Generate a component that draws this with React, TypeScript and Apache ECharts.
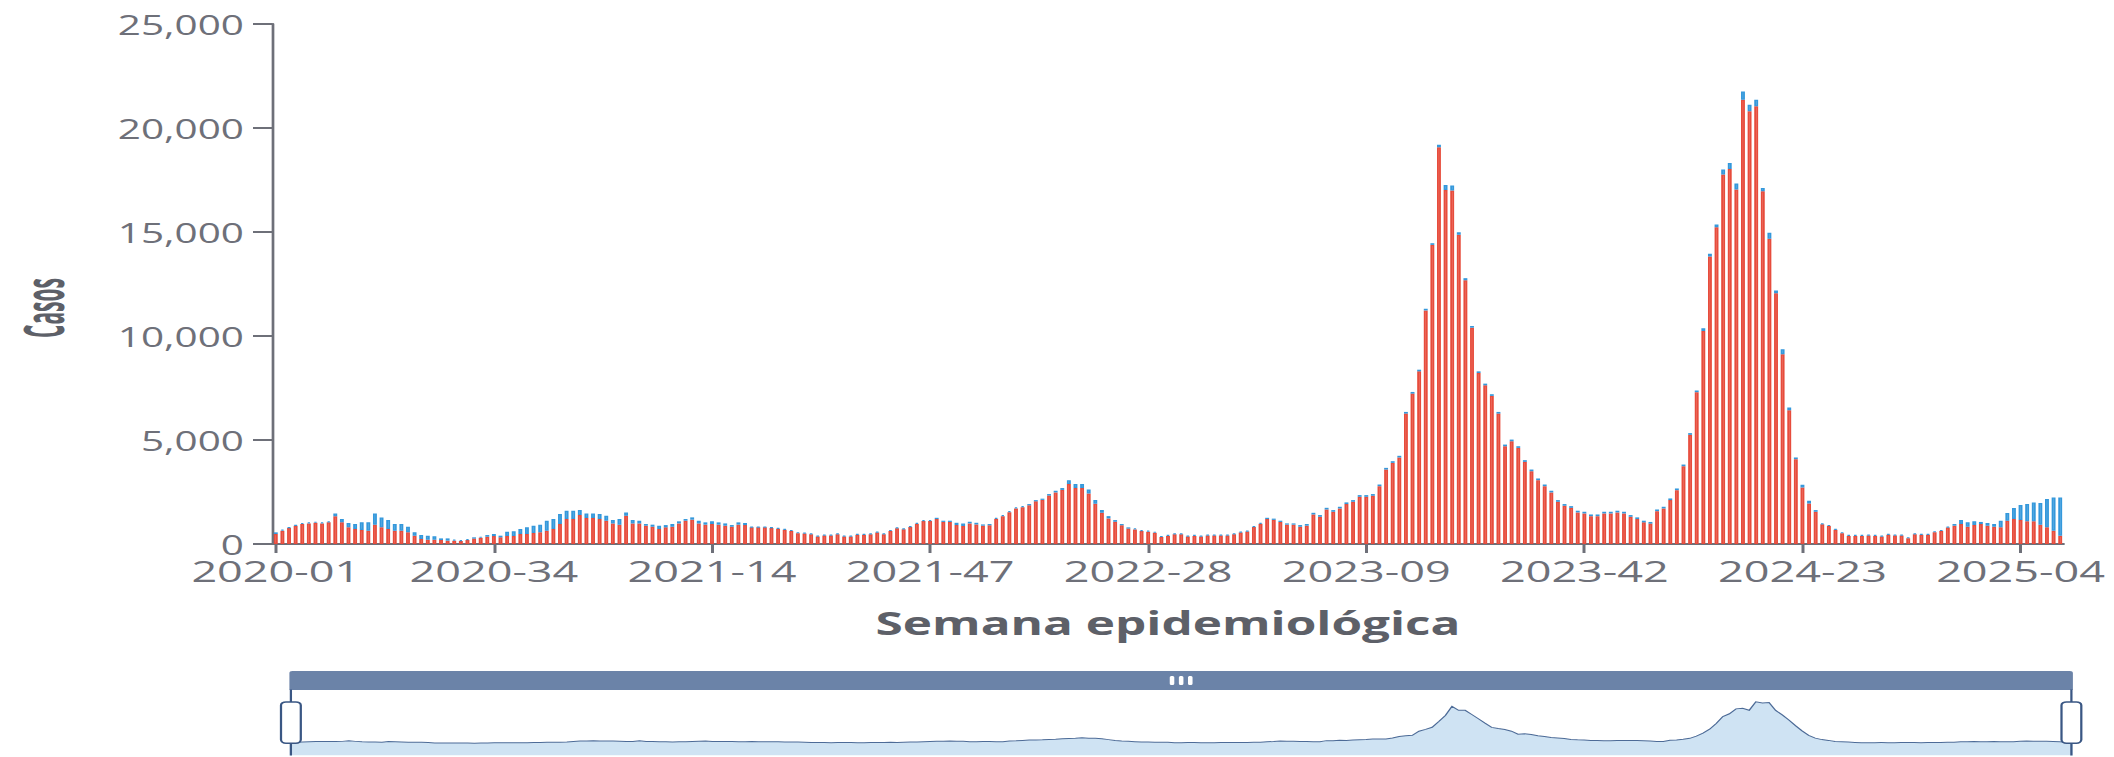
import React, { useEffect, useRef } from "react";
import * as echarts from "echarts";

// Horizontal stretch of the reference picture
const SX = 1.5;
const WIDTH = 2114;
const HEIGHT = 757;
const BASE_W = WIDTH / SX;

// Epidemiological weeks per year shown
const YEAR_WEEKS: [number, number][] = [
  [2020, 53], [2021, 52], [2022, 52], [2023, 52], [2024, 52], [2025, 10],
];
const weeks: string[] = [];
for (const [y, n] of YEAR_WEEKS) {
  for (let w = 1; w <= n; w++) weeks.push(`${y}-${String(w).padStart(2, "0")}`);
}

const Y_MAX = 25000;
const Y_INTERVAL = 5000;

// Red series (bottom of the stack)
const confirmados = [
  480, 640, 770, 880, 960, 990, 1020, 990, 1040, 1330,
  1040, 800, 720, 670, 640, 930, 800, 720, 640, 640,
  560, 400, 240, 210, 210, 190, 160, 160, 140, 190,
  260, 300, 350, 380, 320, 380, 380, 480, 480, 530,
  560, 640, 720, 960, 1200, 1200, 1390, 1250, 1250, 1200,
  1120, 990, 930, 1360, 990, 990, 880, 830, 720, 800,
  830, 990, 1120, 1170, 990, 930, 960, 930, 880, 830,
  930, 910, 800, 800, 800, 770, 730, 680, 630, 520,
  500, 470, 360, 410, 410, 470, 360, 360, 440, 440,
  470, 550, 470, 630, 760, 710, 820, 970, 1100, 1100,
  1200, 1060, 1060, 910, 860, 990, 940, 880, 900, 1210,
  1340, 1530, 1710, 1770, 1860, 2050, 2120, 2330, 2480, 2600,
  2880, 2690, 2690, 2430, 1940, 1500, 1230, 1070, 900, 740,
  700, 620, 590, 540, 340, 390, 470, 470, 360, 390,
  360, 410, 410, 410, 410, 470, 550, 600, 820, 970,
  1200, 1160, 1060, 930, 930, 830, 880, 1420, 1310, 1660,
  1550, 1710, 1920, 2030, 2270, 2270, 2320, 2780, 3580, 3900,
  4160, 6270, 7230, 8300, 11230, 14380, 19070, 17020, 16990, 14870,
  12680, 10400, 8220, 7630, 7120, 6270, 4700, 4940, 4620, 3950,
  3500, 3070, 2780, 2480, 2030, 1840, 1740, 1520, 1470, 1340,
  1340, 1470, 1470, 1520, 1470, 1310, 1200, 1040, 980, 1580,
  1710, 2110, 2590, 3740, 5250, 7300, 10240, 13820, 15230, 17760,
  18030, 17040, 21360, 20800, 21040, 16960, 14670, 12060, 9120, 6430,
  4080, 2720, 1950, 1550, 950, 870, 680, 520, 390, 390,
  390, 410, 390, 360, 440, 410, 410, 280, 470, 440,
  440, 570, 630, 790, 880, 960, 830, 910, 960, 880,
  830, 800, 1120, 1200, 1150, 1090, 1090, 930, 800, 640,
  400,
];

// Blue series (top of the stack)
const enEstudio = [
  80, 50, 30, 30, 50, 50, 50, 50, 50, 140,
  160, 210, 240, 370, 400, 540, 480, 430, 320, 320,
  270, 160, 190, 190, 160, 80, 110, 50, 50, 50,
  60, 50, 80, 100, 80, 210, 230, 240, 320, 350,
  370, 480, 480, 480, 400, 400, 240, 220, 220, 240,
  240, 160, 270, 160, 160, 130, 80, 100, 160, 110,
  130, 100, 80, 110, 130, 110, 130, 110, 110, 80,
  110, 100, 30, 30, 30, 30, 40, 40, 40, 40,
  40, 40, 40, 40, 40, 40, 40, 40, 40, 40,
  40, 40, 40, 40, 40, 40, 40, 50, 50, 50,
  60, 60, 60, 110, 130, 80, 80, 60, 60, 50,
  50, 50, 50, 50, 60, 60, 60, 70, 80, 90,
  190, 190, 190, 190, 170, 130, 110, 80, 60, 60,
  50, 50, 50, 50, 40, 40, 40, 40, 40, 40,
  40, 40, 40, 40, 40, 40, 40, 40, 40, 50,
  60, 60, 60, 60, 60, 80, 80, 80, 80, 80,
  80, 80, 80, 80, 80, 80, 80, 80, 80, 80,
  80, 80, 80, 80, 80, 80, 130, 240, 240, 120,
  100, 80, 80, 80, 80, 80, 80, 80, 80, 80,
  80, 80, 80, 80, 80, 80, 80, 80, 80, 80,
  80, 80, 80, 80, 80, 80, 80, 80, 80, 80,
  80, 80, 80, 80, 80, 80, 130, 130, 130, 240,
  290, 290, 400, 320, 320, 160, 290, 130, 240, 130,
  80, 130, 130, 80, 40, 40, 40, 40, 40, 40,
  40, 40, 40, 40, 40, 40, 40, 40, 40, 40,
  40, 40, 40, 40, 80, 190, 210, 180, 100, 130,
  130, 320, 370, 530, 720, 830, 910, 1040, 1360, 1600,
  1840,
];

const RED = "#e74c3c";
const RED_FILL = "rgba(231,76,60,0.55)";
const BLUE = "#3498db";
const BLUE_FILL = "rgba(52,152,219,0.55)";
const AXIS_GRAY = "#6e7079";
const NAME_GRAY = "#5d6068";

// Full-picture pixel positions, converted to the un-stretched base
const px = (full: number) => full / SX;

export default function App() {
  const ref = useRef<HTMLDivElement>(null);

  useEffect(() => {
    if (!ref.current) return;
    const chart = echarts.init(ref.current, undefined, { renderer: "svg" });
    chart.setOption({
      animation: false,
      textStyle: { fontFamily: "'Open Sans', sans-serif" },
      grid: {
        left: px(272.5),
        right: px(WIDTH - 2064),
        top: 24,
        bottom: HEIGHT - 544,
        containLabel: false,
      },
      graphic: [
        {
          type: "text",
          x: px(42),
          y: 308,
          rotation: Math.PI / 2,
          scaleX: 0.5,
          scaleY: 0.88,
          style: {
            text: "Casos",
            fontSize: 42,
            fontWeight: "bold",
            fontFamily: "'Open Sans', sans-serif",
            fill: NAME_GRAY,
            align: "center",
            verticalAlign: "middle",
          },
        },
      ],
      xAxis: {
        type: "category",
        data: weeks,
        boundaryGap: true,
        name: "Semana epidemiológica",
        nameLocation: "middle",
        nameGap: 62,
        nameTextStyle: { fontSize: 33, fontWeight: "bold", color: NAME_GRAY },
        axisLine: { show: true, lineStyle: { color: AXIS_GRAY, width: 2 } },
        axisTick: {
          show: true,
          alignWithLabel: true,
          interval: 32,
          length: 9,
          lineStyle: { color: AXIS_GRAY, width: 2 },
        },
        axisLabel: { interval: 32, fontSize: 30, color: AXIS_GRAY, margin: 11 },
        splitLine: { show: false },
      },
      yAxis: {
        type: "value",
        min: 0,
        max: Y_MAX,
        interval: Y_INTERVAL,
        axisLine: { show: true, lineStyle: { color: AXIS_GRAY, width: 1.8 } },
        axisTick: { show: true, length: 13, lineStyle: { color: AXIS_GRAY, width: 2 } },
        axisLabel: { fontSize: 27, color: AXIS_GRAY, margin: 19 },
        splitLine: { show: false },
      },
      dataZoom: [
        {
          type: "slider",
          xAxisIndex: 0,
          start: 0,
          end: 100,
          left: px(278),
          right: px(WIDTH - 2062),
          top: 671,
          height: 66,
          showDetail: false,
          borderColor: "transparent",
          fillerColor: "rgba(0,0,0,0)",
          backgroundColor: "rgba(0,0,0,0)",
          moveHandleSize: 19,
          moveHandleStyle: { color: "#6b83a8", opacity: 1 },
          handleStyle: { color: "#ffffff", borderColor: "#3a5784", borderWidth: 1.5 },
          dataBackground: {
            lineStyle: { color: "#4d6b97", width: 1 },
            areaStyle: { color: "#cfe3f3", opacity: 1 },
          },
          selectedDataBackground: {
            lineStyle: { color: "#4d6b97", width: 1 },
            areaStyle: { color: "#cfe3f3", opacity: 1 },
          },
        },
      ],
      series: [
        {
          name: "Confirmados",
          type: "bar",
          stack: "total",
          data: confirmados,
          barCategoryGap: "41%",
          itemStyle: { color: RED_FILL, borderColor: RED, borderWidth: 1.2 },
        },
        {
          name: "En estudio",
          type: "bar",
          stack: "total",
          data: enEstudio,
          barCategoryGap: "41%",
          itemStyle: { color: BLUE_FILL, borderColor: BLUE, borderWidth: 1.2 },
        },
      ],
    });
    return () => chart.dispose();
  }, []);

  return (
    <div
      style={{
        position: "fixed",
        left: 0,
        top: 0,
        width: WIDTH,
        height: HEIGHT,
        overflow: "hidden",
        background: "#ffffff",
      }}
    >
      <div
        ref={ref}
        style={{
          width: BASE_W,
          height: HEIGHT,
          transform: `scaleX(${SX})`,
          transformOrigin: "0 0",
        }}
      />
    </div>
  );
}
